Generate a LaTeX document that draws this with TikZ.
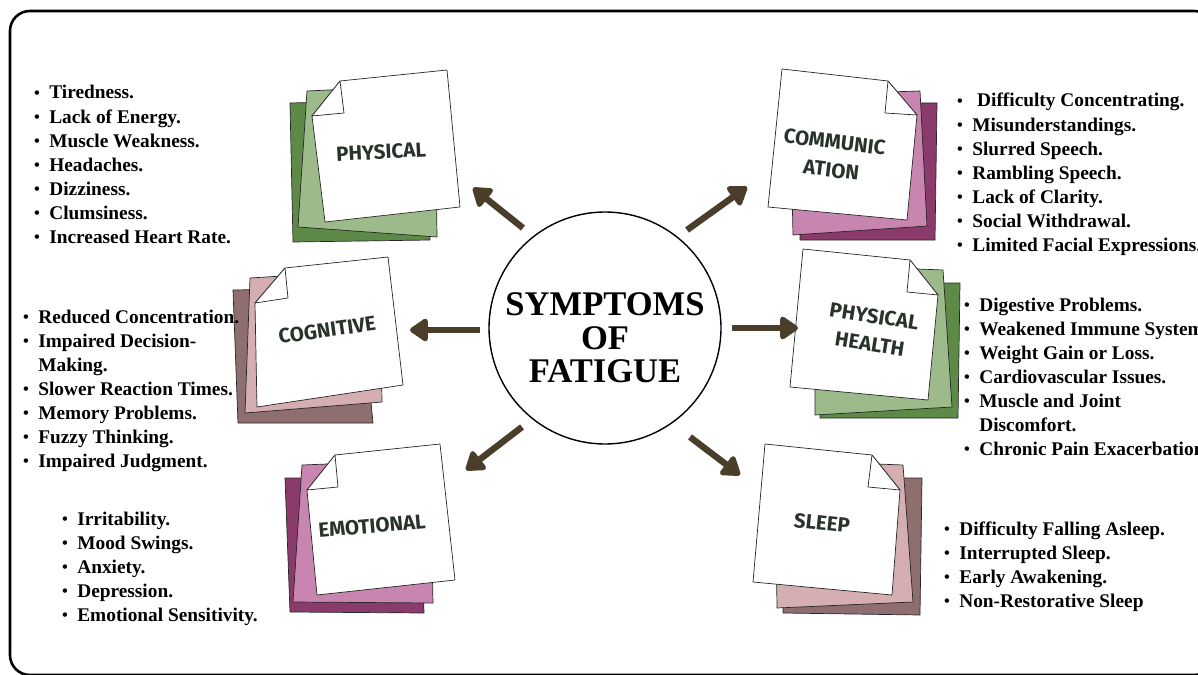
\documentclass[tikz,border=0pt]{standalone}
\usepackage{fontspec}
\setmainfont{Liberation Serif}
\newfontfamily\handfont{Fira Sans}
\usetikzlibrary{arrows.meta}
\definecolor{arrowbrown}{HTML}{4A3E2A}
\definecolor{tagink}{HTML}{28342A}
\definecolor{greendark}{HTML}{5E8A48}
\definecolor{greenlight}{HTML}{9DBB8A}
\definecolor{pinkdark}{HTML}{8A3B6B}
\definecolor{pinklight}{HTML}{C885B0}
\definecolor{mauvedark}{HTML}{8E6E6F}
\definecolor{mauvelight}{HTML}{D4AEB0}
\tikzset{
  sheet/.style={draw=black!85,line width=0.6pt,line join=round},
  arr/.style={line width=5.5pt,draw=arrowbrown,-{Triangle[length=17pt,width=22pt,round]}},
  tag/.style={font=\handfont\bfseries\fontsize{17.5}{24}\selectfont,text=tagink,align=center,inner sep=0pt},
  list/.style={anchor=base west,inner sep=0pt,font=\fontsize{16.5}{20.5}\selectfont\bfseries}
}
\newcommand\bl{\raisebox{0.1ex}{\fontsize{14}{14}\selectfont\textbullet}}
\begin{document}
\begin{tikzpicture}[x=0.03cm,y=-0.03cm]
    \useasboundingbox (0,0) rectangle (1198,675);
    \draw[line width=2.2pt,rounded corners=17pt] (10,11) rectangle (1214,675);
    % physical
    \filldraw[sheet,fill=greendark] (290,103)--(425,100)--(430,240)--(293,242)--cycle;
    \filldraw[sheet,fill=greenlight] (307,91)--(435,85)--(437,237)--(298,227)--cycle;
    \filldraw[sheet,fill=white] (340,81)--(447,70)--(460,207)--(325,222)--(312,116)--cycle;
    \filldraw[sheet,fill=white] (340,81)--(344,113)--(312,116)--cycle;
    \node[tag,rotate=3] (physical) at (381,152) {PHYSICAL};
    % communication
    \filldraw[sheet,fill=pinkdark] (800,103)--(937,103)--(935,240)--(800,240)--cycle;
    \filldraw[sheet,fill=pinklight] (790,95)--(920,91)--(927,226)--(793,235)--cycle;
    \filldraw[sheet,fill=white] (782,69)--(888,81)--(917,115)--(907,220)--(768,207)--cycle;
    \filldraw[sheet,fill=white] (888,81)--(885,113)--(917,115)--cycle;
    \node[tag,rotate=-7] (communication) at (833,156) {COMMUNIC\\ATION};
    % cognitive
    \filldraw[sheet,fill=mauvedark] (233,290)--(360,288)--(373,423)--(238,423)--cycle;
    \filldraw[sheet,fill=mauvelight] (250,278)--(380,270)--(382,402)--(245,413)--cycle;
    \filldraw[sheet,fill=white] (285,268)--(388,257)--(403,385)--(257,407)--(255,303)--cycle;
    \filldraw[sheet,fill=white] (285,268)--(288,298)--(255,303)--cycle;
    \node[tag,rotate=8] (cognitive) at (327,330) {COGNITIVE};
    % physical health
    \filldraw[sheet,fill=greendark] (820,283)--(960,283)--(958,418)--(820,418)--cycle;
    \filldraw[sheet,fill=greenlight] (815,265)--(943,270)--(952,407)--(815,415)--cycle;
    \filldraw[sheet,fill=white] (803,249)--(910,260)--(938,295)--(928,400)--(790,387)--cycle;
    \filldraw[sheet,fill=white] (910,260)--(907,292)--(938,295)--cycle;
    \node[tag,rotate=-9] (health) at (872,330) {PHYSICAL\\HEALTH};
    % emotional
    \filldraw[sheet,fill=pinkdark] (285,478)--(420,478)--(424,613)--(290,612)--cycle;
    \filldraw[sheet,fill=pinklight] (302,465)--(430,460)--(433,603)--(293,602)--cycle;
    \filldraw[sheet,fill=white] (335,455)--(440,444)--(455,580)--(317,595)--(307,490)--cycle;
    \filldraw[sheet,fill=white] (335,455)--(338,487)--(307,490)--cycle;
    \node[tag,rotate=5] (emotional) at (372,526) {EMOTIONAL};
    % sleep
    \filldraw[sheet,fill=mauvedark] (783,478)--(922,478)--(920,615)--(783,613)--cycle;
    \filldraw[sheet,fill=mauvelight] (775,460)--(903,465)--(913,602)--(777,608)--cycle;
    \filldraw[sheet,fill=white] (765,444)--(872,455)--(900,490)--(892,595)--(753,582)--cycle;
    \filldraw[sheet,fill=white] (872,455)--(868,487)--(900,490)--cycle;
    \node[tag,rotate=-6] (sleep) at (822,523) {SLEEP};
    % lists
    \node[list] (physlist) at (34,99) {\begin{tabular}[t]{@{}l@{\hspace{8pt}}l@{}}
      \bl & Tiredness.\\ \bl & Lack of Energy.\\ \bl & Muscle Weakness.\\ \bl & Headaches.\\
      \bl & Dizziness.\\ \bl & Clumsiness.\\ \bl & Increased Heart Rate.\end{tabular}};
    \node[list] (coglist) at (23,323) {\begin{tabular}[t]{@{}l@{\hspace{8pt}}l@{}}
      \bl & Reduced Concentration.\\ \bl & Impaired Decision-\\ & Making.\\ \bl & Slower Reaction Times.\\
      \bl & Memory Problems.\\ \bl & Fuzzy Thinking.\\ \bl & Impaired Judgment.\end{tabular}};
    \node[list] (emolist) at (62,525) {\begin{tabular}[t]{@{}l@{\hspace{8pt}}l@{}}
      \bl & Irritability.\\ \bl & Mood Swings.\\ \bl & Anxiety.\\ \bl & Depression.\\
      \bl & Emotional Sensitivity.\end{tabular}};
    \node[list] (comlist) at (957,107) {\begin{tabular}[t]{@{}l@{\hspace{8pt}}l@{}}
      \bl & \ Difficulty Concentrating.\\ \bl & Misunderstandings.\\ \bl & Slurred Speech.\\
      \bl & Rambling Speech.\\ \bl & Lack of Clarity.\\ \bl & Social Withdrawal.\\
      \bl & Limited Facial Expressions.\end{tabular}};
    \node[list] (healthlist) at (964,311) {\begin{tabular}[t]{@{}l@{\hspace{8pt}}l@{}}
      \bl & Digestive Problems.\\ \bl & Weakened Immune System.\\ \bl & Weight Gain or Loss.\\
      \bl & Cardiovascular Issues.\\ \bl & Muscle and Joint\\ & Discomfort.\\
      \bl & Chronic Pain Exacerbation.\end{tabular}};
    \node[list] (sleeplist) at (944,535) {\begin{tabular}[t]{@{}l@{\hspace{8pt}}l@{}}
      \bl & Difficulty Falling Asleep.\\ \bl & Interrupted Sleep.\\ \bl & Early Awakening.\\
      \bl & Non-Restorative Sleep\end{tabular}};
    % hub
    \node[draw,circle,line width=1.2pt,minimum size=198pt,inner sep=0pt,fill=white] (hub) at (605,328) {};
    \node[align=center,inner sep=0pt,font=\fontsize{29.5}{28.6}\selectfont\bfseries] (title) at (605,338) {SYMPTOMS\\OF\\FATIGUE};
    \coordinate (ul0) at (523,228); \coordinate (ul1) at (473,188);
    \coordinate (ur0) at (687,230); \coordinate (ur1) at (747,187);
    \coordinate (l0) at (480,330);  \coordinate (l1) at (410,330);
    \coordinate (r0) at (732,328);  \coordinate (r1) at (798,328);
    \coordinate (dl0) at (522,427); \coordinate (dl1) at (466,470);
    \coordinate (dr0) at (690,437); \coordinate (dr1) at (740,475);
    \draw[arr] (ul0)--(ul1);
    \draw[arr] (ur0)--(ur1);
    \draw[arr] (l0)--(l1);
    \draw[arr] (r0)--(r1);
    \draw[arr] (dl0)--(dl1);
    \draw[arr] (dr0)--(dr1);
\end{tikzpicture}
\end{document}
